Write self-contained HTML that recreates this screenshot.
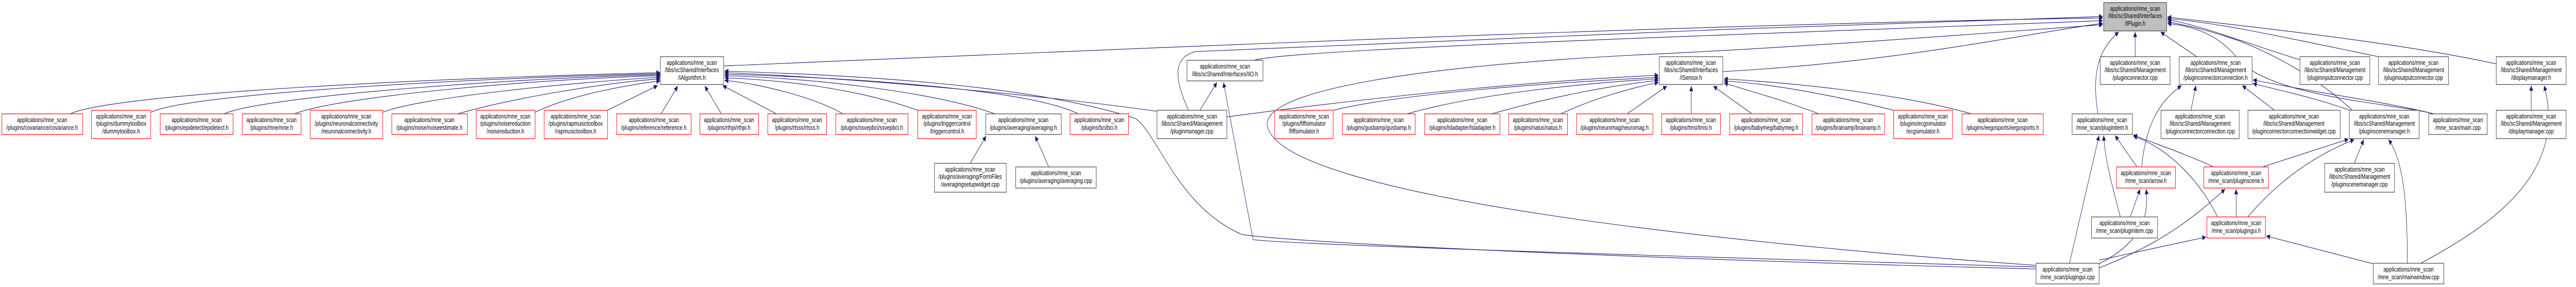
<!DOCTYPE html>
<html><head><meta charset="utf-8"><style>
html,body{margin:0;padding:0;background:#fff;width:100vw;height:100vh;overflow:hidden;}
svg{display:block;width:100vw;height:100vh;}
text{font-family:"Liberation Sans",Arial,sans-serif;font-size:13px;fill:#000;text-anchor:middle;}
.r{fill:#fff;stroke:#ff0000;stroke-width:1.2;}
.b{fill:#fff;stroke:#404040;stroke-width:1.2;}
.g{fill:#bfbfbf;stroke:#404040;stroke-width:1.2;}
.e{fill:none;stroke:#191970;stroke-width:1.1;marker-end:url(#a);}
</style></head><body>
<svg viewBox="0 0 6784 557" preserveAspectRatio="none" xmlns="http://www.w3.org/2000/svg">
<defs><marker id="a" viewBox="0 0 10 10" refX="10" refY="5" markerWidth="11" markerHeight="10" markerUnits="userSpaceOnUse" orient="auto"><path d="M0,0L10,5L0,10z" fill="#191970"/></marker></defs>

<g>
<path class="e" d="M185,221 C300,180 1200,150 1739,141"/>
<path class="e" d="M397,218 C500,180 1300,150 1739,143"/>
<path class="e" d="M590,221 C700,185 1400,150 1739,145"/>
<path class="e" d="M775,221 C900,185 1450,152 1739,147"/>
<path class="e" d="M1008,218 C1100,190 1500,160 1739,150"/>
<path class="e" d="M1205,221 C1350,190 1600,160 1739,153"/>
<path class="e" d="M1409,218 C1500,185 1650,165 1739,157"/>
<path class="e" d="M1600,214 L1732,166"/>
<path class="e" d="M1741,221 L1785,167"/>
<path class="e" d="M1900,221 L1856,167"/>
<path class="e" d="M2045,221 L1903,166"/>
<path class="e" d="M2220,221 C2150,190 2000,162 1908,156"/>
<path class="e" d="M2417,214 C2250,170 2050,155 1908,151"/>
<path class="e" d="M2620,221 C2450,175 2100,150 1908,147"/>
<path class="e" d="M2840,221 C2700,170 2200,150 1908,144"/>
<path class="e" d="M3047,216 C2700,180 2200,150 1908,141"/>
<path class="e" d="M5362,522 C4200,500 3400,470 3270,455 C3100,400 3050,260 2990,230 C2700,160 2200,145 1908,138"/>
<path class="e" d="M1906,128 C2800,100 4500,45 5538,35"/>

<path class="e" d="M3511,214 C3700,180 4100,160 4368,150"/>
<path class="e" d="M3705,221 C3900,180 4200,160 4368,153"/>
<path class="e" d="M3928,221 C4100,185 4250,165 4368,156"/>
<path class="e" d="M4110,221 C4200,190 4300,170 4368,160"/>
<path class="e" d="M4285,221 L4390,167"/>
<path class="e" d="M4454,221 L4454,167"/>
<path class="e" d="M4614,221 L4512,167"/>
<path class="e" d="M4790,221 C4700,195 4600,175 4540,161"/>
<path class="e" d="M4987,214 C4800,180 4650,162 4540,157"/>
<path class="e" d="M5192,221 C5000,180 4700,160 4540,153"/>
<path class="e" d="M4537,139 C5000,120 5300,70 5538,45"/>
<path class="e" d="M3303,117 C3400,95 4500,70 5538,40"/>
<path class="e" d="M3130,214 C3090,150 3090,110 3150,100 C3600,80 4800,50 5538,32"/>
<path class="e" d="M3160,214 L3205,160"/>
<path class="e" d="M3231,227 C3700,180 4100,155 4368,146"/>
<path class="e" d="M5362,518 C4300,495 3400,475 3300,465 L3222,160"/>
<path class="e" d="M5362,515 C4500,470 3400,380 3340,250 C3300,180 3700,130 4300,107 C4800,90 5300,60 5538,48"/>

<path class="e" d="M5623,110 L5623,62"/>
<path class="e" d="M5785,110 L5690,62"/>
<path class="e" d="M5525,221 C5510,150 5520,100 5580,62"/>
<path class="e" d="M6057,116 C5900,80 5800,50 5708,38"/>
<path class="e" d="M6264,110 C6000,70 5850,45 5708,36"/>
<path class="e" d="M6574,124 C6300,80 5900,50 5708,33"/>
<path class="e" d="M6195,214 C6100,150 6000,110 5900,80 C5800,55 5760,50 5708,42"/>
<path class="e" d="M6410,221 C6300,200 6000,190 5900,120 C5850,70 5780,50 5708,46"/>

<path class="e" d="M5770,214 L5783,166"/>
<path class="e" d="M5990,214 L5905,166"/>
<path class="e" d="M6187,214 C6100,190 6000,175 5933,162"/>
<path class="e" d="M6410,221 C6300,200 6100,180 5933,155"/>
<path class="e" d="M5640,324 C5650,250 5680,200 5745,166"/>

<path class="e" d="M5628,324 L5570,263"/>
<path class="e" d="M5584,421 C5570,380 5545,320 5540,263"/>
<path class="e" d="M5450,511 L5528,263"/>
<path class="e" d="M5830,324 C5760,300 5680,280 5618,262"/>
<path class="e" d="M5840,421 C5800,360 5720,290 5618,264"/>
<path class="e" d="M5610,421 L5636,367"/>
<path class="e" d="M5528,512 C5640,470 5660,420 5652,367"/>
<path class="e" d="M5958,324 L6185,270"/>
<path class="e" d="M5920,421 C6000,350 6100,300 6200,271"/>
<path class="e" d="M6200,317 L6225,271"/>
<path class="e" d="M6340,511 C6340,400 6330,310 6290,271"/>
<path class="e" d="M5889,421 L5889,367"/>
<path class="e" d="M5528,520 C5700,470 5780,420 5860,367"/>
<path class="e" d="M5528,505 L5810,460"/>
<path class="e" d="M6250,512 L5968,458"/>
<path class="e" d="M6666,214 L6666,166"/>
<path class="e" d="M6375,511 C6580,430 6760,330 6700,166"/>
<path class="e" d="M2555,317 L2597,264"/>
<path class="e" d="M2762,324 L2726,264"/>
</g>

<g>
<rect class="g" x="5540" y="5" width="166" height="55"/>
<text x="5623" y="21">applications/mne_scan</text><text x="5623" y="35">/libs/scShared/Interfaces</text><text x="5623" y="50">/IPlugin.h</text>

<rect class="b" x="1739" y="110" width="167" height="54"/>
<text x="1822" y="126">applications/mne_scan</text><text x="1822" y="140">/libs/scShared/Interfaces</text><text x="1822" y="155">/IAlgorithm.h</text>
<rect class="b" x="3126" y="117" width="200" height="40"/>
<text x="3226" y="133">applications/mne_scan</text><text x="3226" y="148">/libs/scShared/Interfaces/IIO.h</text>
<rect class="b" x="4370" y="110" width="167" height="54"/>
<text x="4453" y="126">applications/mne_scan</text><text x="4453" y="140">/libs/scShared/Interfaces</text><text x="4453" y="155">/ISensor.h</text>
<rect class="b" x="5531" y="110" width="184" height="54"/>
<text x="5623" y="126">applications/mne_scan</text><text x="5623" y="140">/libs/scShared/Management</text><text x="5623" y="155">/pluginconnector.cpp</text>
<rect class="b" x="5739" y="110" width="192" height="54"/>
<text x="5835" y="126">applications/mne_scan</text><text x="5835" y="140">/libs/scShared/Management</text><text x="5835" y="155">/pluginconnectorconnection.h</text>
<rect class="b" x="6057" y="110" width="184" height="54"/>
<text x="6149" y="126">applications/mne_scan</text><text x="6149" y="140">/libs/scShared/Management</text><text x="6149" y="155">/plugininputconnector.cpp</text>
<rect class="b" x="6264" y="110" width="184" height="54"/>
<text x="6356" y="126">applications/mne_scan</text><text x="6356" y="140">/libs/scShared/Management</text><text x="6356" y="155">/pluginoutputconnector.cpp</text>
<rect class="b" x="6574" y="110" width="184" height="54"/>
<text x="6666" y="126">applications/mne_scan</text><text x="6666" y="140">/libs/scShared/Management</text><text x="6666" y="155">/displaymanager.h</text>

<rect class="r" x="5" y="221" width="213" height="40"/>
<text x="111" y="237">applications/mne_scan</text><text x="111" y="252">/plugins/covariance/covariance.h</text>
<rect class="r" x="241" y="214" width="156" height="55"/>
<text x="319" y="230">applications/mne_scan</text><text x="319" y="244">/plugins/dummytoolbox</text><text x="319" y="259">/dummytoolbox.h</text>
<rect class="r" x="422" y="221" width="192" height="40"/>
<text x="518" y="237">applications/mne_scan</text><text x="518" y="252">/plugins/epidetect/epidetect.h</text>
<rect class="r" x="638" y="221" width="155" height="40"/>
<text x="715" y="237">applications/mne_scan</text><text x="715" y="252">/plugins/mne/mne.h</text>
<rect class="r" x="817" y="214" width="191" height="55"/>
<text x="912" y="230">applications/mne_scan</text><text x="912" y="244">/plugins/neuronalconnectivity</text><text x="912" y="259">/neuronalconnectivity.h</text>
<rect class="r" x="1032" y="221" width="199" height="40"/>
<text x="1131" y="237">applications/mne_scan</text><text x="1131" y="252">/plugins/noise/noiseestimate.h</text>
<rect class="r" x="1254" y="214" width="155" height="55"/>
<text x="1331" y="230">applications/mne_scan</text><text x="1331" y="244">/plugins/noisereduction</text><text x="1331" y="259">/noisereduction.h</text>
<rect class="r" x="1433" y="214" width="167" height="55"/>
<text x="1516" y="230">applications/mne_scan</text><text x="1516" y="244">/plugins/rapmusictoolbox</text><text x="1516" y="259">/rapmusictoolbox.h</text>
<rect class="r" x="1624" y="221" width="196" height="40"/>
<text x="1722" y="237">applications/mne_scan</text><text x="1722" y="252">/plugins/reference/reference.h</text>
<rect class="r" x="1843" y="221" width="155" height="40"/>
<text x="1920" y="237">applications/mne_scan</text><text x="1920" y="252">/plugins/rthpi/rthpi.h</text>
<rect class="r" x="2022" y="221" width="155" height="40"/>
<text x="2099" y="237">applications/mne_scan</text><text x="2099" y="252">/plugins/rtsss/rtsss.h</text>
<rect class="r" x="2201" y="221" width="190" height="40"/>
<text x="2296" y="237">applications/mne_scan</text><text x="2296" y="252">/plugins/ssvepbci/ssvepbci.h</text>
<rect class="r" x="2417" y="214" width="154" height="55"/>
<text x="2494" y="230">applications/mne_scan</text><text x="2494" y="244">/plugins/triggercontrol</text><text x="2494" y="259">/triggercontrol.h</text>
<rect class="b" x="2596" y="221" width="199" height="40"/>
<text x="2695" y="237">applications/mne_scan</text><text x="2695" y="252">/plugins/averaging/averaging.h</text>
<rect class="r" x="2818" y="221" width="154" height="40"/>
<text x="2895" y="237">applications/mne_scan</text><text x="2895" y="252">/plugins/bci/bci.h</text>
<rect class="b" x="3047" y="214" width="184" height="55"/>
<text x="3139" y="230">applications/mne_scan</text><text x="3139" y="244">/libs/scShared/Management</text><text x="3139" y="259">/pluginmanager.cpp</text>
<rect class="r" x="3357" y="214" width="154" height="55"/>
<text x="3434" y="230">applications/mne_scan</text><text x="3434" y="244">/plugins/fiffsimulator</text><text x="3434" y="259">/fiffsimulator.h</text>
<rect class="r" x="3535" y="221" width="192" height="40"/>
<text x="3631" y="237">applications/mne_scan</text><text x="3631" y="252">/plugins/gusbamp/gusbamp.h</text>
<rect class="r" x="3752" y="221" width="198" height="40"/>
<text x="3851" y="237">applications/mne_scan</text><text x="3851" y="252">/plugins/lsladapter/lsladapter.h</text>
<rect class="r" x="3973" y="221" width="155" height="40"/>
<text x="4050" y="237">applications/mne_scan</text><text x="4050" y="252">/plugins/natus/natus.h</text>
<rect class="r" x="4152" y="221" width="201" height="40"/>
<text x="4252" y="237">applications/mne_scan</text><text x="4252" y="252">/plugins/neuromag/neuromag.h</text>
<rect class="r" x="4376" y="221" width="155" height="40"/>
<text x="4453" y="237">applications/mne_scan</text><text x="4453" y="252">/plugins/tmsi/tmsi.h</text>
<rect class="r" x="4555" y="221" width="192" height="40"/>
<text x="4651" y="237">applications/mne_scan</text><text x="4651" y="252">/plugins/babymeg/babymeg.h</text>
<rect class="r" x="4772" y="221" width="191" height="40"/>
<text x="4867" y="237">applications/mne_scan</text><text x="4867" y="252">/plugins/brainamp/brainamp.h</text>
<rect class="r" x="4987" y="214" width="155" height="55"/>
<text x="5064" y="230">applications/mne_scan</text><text x="5064" y="244">/plugins/ecgsimulator</text><text x="5064" y="259">/ecgsimulator.h</text>
<rect class="r" x="5167" y="221" width="214" height="40"/>
<text x="5274" y="237">applications/mne_scan</text><text x="5274" y="252">/plugins/eegosports/eegosports.h</text>
<rect class="b" x="5457" y="221" width="159" height="40"/>
<text x="5536" y="237">applications/mne_scan</text><text x="5536" y="252">/mne_scan/pluginitem.h</text>
<rect class="b" x="5691" y="214" width="206" height="55"/>
<text x="5794" y="230">applications/mne_scan</text><text x="5794" y="244">/libs/scShared/Management</text><text x="5794" y="259">/pluginconnectorconnection.cpp</text>
<rect class="b" x="5920" y="214" width="243" height="55"/>
<text x="6041" y="230">applications/mne_scan</text><text x="6041" y="244">/libs/scShared/Management</text><text x="6041" y="259">/pluginconnectorconnectionwidget.cpp</text>
<rect class="b" x="6187" y="214" width="184" height="55"/>
<text x="6279" y="230">applications/mne_scan</text><text x="6279" y="244">/libs/scShared/Management</text><text x="6279" y="259">/pluginscenemanager.h</text>
<rect class="b" x="6396" y="221" width="154" height="40"/>
<text x="6473" y="237">applications/mne_scan</text><text x="6473" y="252">/mne_scan/main.cpp</text>
<rect class="b" x="6574" y="214" width="184" height="55"/>
<text x="6666" y="230">applications/mne_scan</text><text x="6666" y="244">/libs/scShared/Management</text><text x="6666" y="259">/displaymanager.cpp</text>

<rect class="b" x="2461" y="317" width="189" height="56"/>
<text x="2555" y="333">applications/mne_scan</text><text x="2555" y="347">/plugins/averaging/FormFiles</text><text x="2555" y="362">/averagingsetupwidget.cpp</text>
<rect class="b" x="2675" y="324" width="212" height="41"/>
<text x="2781" y="340">applications/mne_scan</text><text x="2781" y="355">/plugins/averaging/averaging.cpp</text>
<rect class="r" x="5574" y="324" width="155" height="41"/>
<text x="5651" y="340">applications/mne_scan</text><text x="5651" y="355">/mne_scan/arrow.h</text>
<rect class="r" x="5804" y="324" width="170" height="41"/>
<text x="5889" y="340">applications/mne_scan</text><text x="5889" y="355">/mne_scan/pluginscene.h</text>
<rect class="b" x="6122" y="317" width="184" height="56"/>
<text x="6214" y="333">applications/mne_scan</text><text x="6214" y="347">/libs/scShared/Management</text><text x="6214" y="362">/pluginscenemanager.cpp</text>

<rect class="b" x="5508" y="421" width="174" height="41"/>
<text x="5595" y="437">applications/mne_scan</text><text x="5595" y="452">/mne_scan/pluginitem.cpp</text>
<rect class="r" x="5812" y="421" width="154" height="41"/>
<text x="5889" y="437">applications/mne_scan</text><text x="5889" y="452">/mne_scan/plugingui.h</text>

<rect class="b" x="5362" y="511" width="166" height="40"/>
<text x="5445" y="527">applications/mne_scan</text><text x="5445" y="542">/mne_scan/plugingui.cpp</text>
<rect class="b" x="6250" y="511" width="186" height="40"/>
<text x="6343" y="527">applications/mne_scan</text><text x="6343" y="542">/mne_scan/mainwindow.cpp</text>
</g>
</svg>
</body></html>
